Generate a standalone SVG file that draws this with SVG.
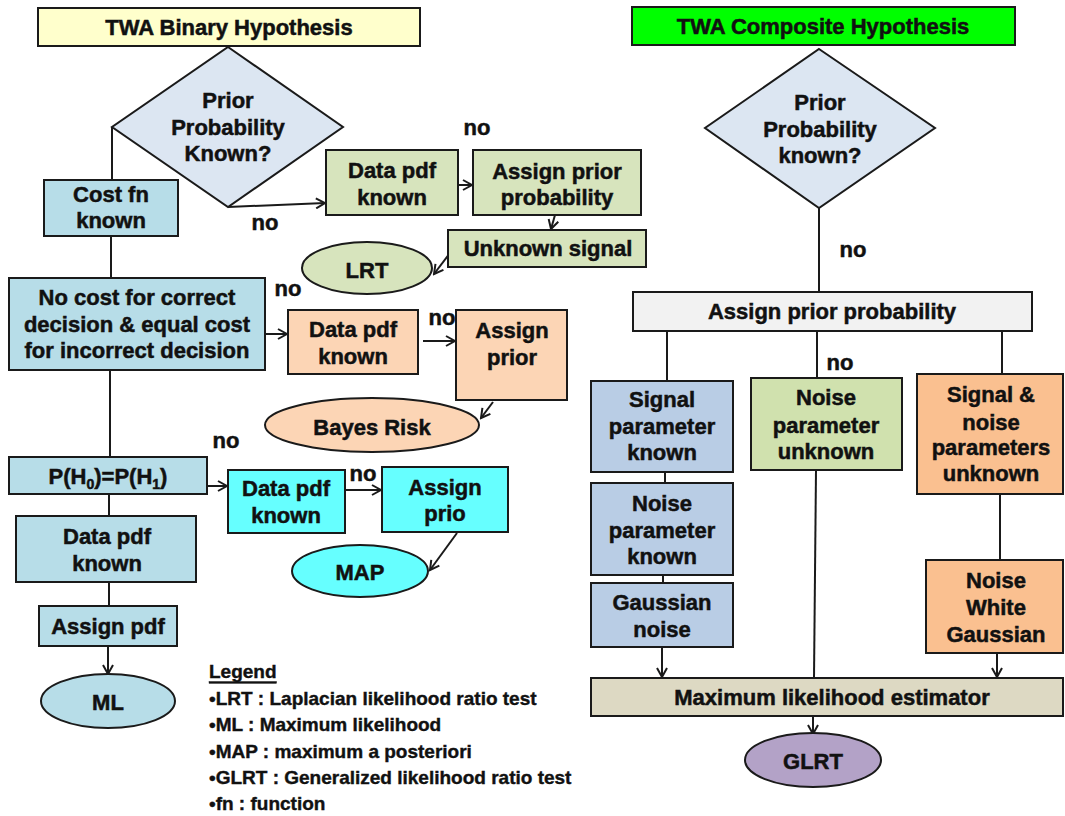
<svg xmlns="http://www.w3.org/2000/svg" width="1065" height="816" viewBox="0 0 1065 816">
<style>
.b{stroke:#1a1a1a;stroke-width:2}
.t{font-family:"Liberation Sans",Arial,sans-serif;font-weight:bold;font-size:22px;fill:#111;stroke:#111;stroke-width:0.5;text-anchor:middle;dominant-baseline:central}
.lg{font-family:"Liberation Sans",Arial,sans-serif;font-weight:bold;font-size:19px;fill:#111;stroke:#111;stroke-width:0.4;text-anchor:start;dominant-baseline:central}
.c{stroke:#1a1a1a;stroke-width:2;fill:none}
.a{marker-end:url(#ah)}
</style>
<defs>
<marker id="ah" markerWidth="12" markerHeight="12" refX="10" refY="6" orient="auto" markerUnits="userSpaceOnUse">
<path d="M1,1 L10,6 L1,11" fill="none" stroke="#1a1a1a" stroke-width="2"/>
</marker>
</defs>
<rect width="1065" height="816" fill="#fff"/>

<g id="connectors">
<line class="c" x1="112" y1="127" x2="112" y2="180"/>
<line class="c" x1="111" y1="236" x2="111" y2="278"/>
<line class="c" x1="110" y1="370" x2="110" y2="457"/>
<line class="c" x1="109" y1="494" x2="109" y2="516"/>
<line class="c" x1="109" y1="582" x2="109" y2="606"/>
<line class="c a" x1="108" y1="646" x2="108" y2="674"/>
<line class="c a" x1="228" y1="207" x2="325" y2="203"/>
<line class="c a" x1="458" y1="185" x2="472" y2="185"/>
<line class="c a" x1="555" y1="215" x2="551" y2="229"/>
<line class="c a" x1="450" y1="253" x2="434" y2="274"/>
<line class="c a" x1="265" y1="334" x2="287" y2="334"/>
<line class="c a" x1="423" y1="341" x2="455" y2="341"/>
<line class="c a" x1="493" y1="402" x2="481" y2="418"/>
<line class="c a" x1="207" y1="486" x2="227" y2="486"/>
<line class="c a" x1="345" y1="490" x2="381" y2="490"/>
<line class="c a" x1="457" y1="533" x2="430" y2="570"/>
<line class="c" x1="819" y1="208" x2="819" y2="292"/>
<line class="c" x1="667" y1="331" x2="667" y2="381"/>
<line class="c" x1="817" y1="331" x2="817" y2="378"/>
<line class="c" x1="1002" y1="331" x2="1002" y2="374"/>
<line class="c" x1="665" y1="472" x2="665" y2="483"/>
<line class="c" x1="663" y1="575" x2="663" y2="583"/>
<line class="c a" x1="662" y1="647" x2="662" y2="677"/>
<line class="c" x1="816" y1="470" x2="814" y2="678"/>
<line class="c" x1="1000" y1="494" x2="1000" y2="560"/>
<line class="c a" x1="997" y1="653" x2="997" y2="677"/>
<line class="c a" x1="813" y1="716" x2="813" y2="734"/>
</g>

<g id="title-binary">
<rect class="b" x="38" y="8" width="382" height="38" fill="#FFFFCC"/>
<text class="t" x="229" y="27">TWA Binary Hypothesis</text>
</g>
<g id="diamond-binary">
<polygon class="b" points="228,47 343,127 228,207 112,127" fill="#DCE6F2"/>
<text class="t" x="228" y="100">Prior</text>
<text class="t" x="228" y="127">Probability</text>
<text class="t" x="228" y="153">Known?</text>
</g>
<g id="cost-fn">
<rect class="b" x="44" y="180" width="134" height="56" fill="#B7DDE8"/>
<text class="t" x="111" y="194">Cost fn</text>
<text class="t" x="111" y="220">known</text>
</g>
<g id="no-cost">
<rect class="b" x="9" y="278" width="256" height="92" fill="#B7DDE8"/>
<text class="t" x="137" y="297">No cost for correct</text>
<text class="t" x="137" y="324">decision &amp; equal cost</text>
<text class="t" x="137" y="350">for incorrect decision</text>
</g>
<g id="ph">
<rect class="b" x="9" y="457" width="198" height="37" fill="#B7DDE8"/>
<text class="t" x="108" y="476">P(H<tspan font-size="14" baseline-shift="sub">0</tspan>)=P(H<tspan font-size="14" baseline-shift="sub">1</tspan>)</text>
</g>
<g id="data-pdf-left">
<rect class="b" x="16" y="516" width="180" height="66" fill="#B7DDE8"/>
<text class="t" x="107" y="536">Data pdf</text>
<text class="t" x="107" y="563">known</text>
</g>
<g id="assign-pdf">
<rect class="b" x="39" y="606" width="138" height="40" fill="#B7DDE8"/>
<text class="t" x="108" y="626">Assign pdf</text>
</g>
<g id="ml">
<ellipse class="b" cx="108" cy="701" rx="67" ry="27" fill="#B7DDE8"/>
<text class="t" x="108" y="702">ML</text>
</g>

<g id="data-pdf-green">
<rect class="b" x="326" y="150" width="132" height="65" fill="#D7E4BD"/>
<text class="t" x="392" y="170">Data pdf</text>
<text class="t" x="392" y="197">known</text>
</g>
<g id="assign-prior-prob-green">
<rect class="b" x="473" y="150" width="168" height="65" fill="#D7E4BD"/>
<text class="t" x="557" y="171">Assign prior</text>
<text class="t" x="557" y="197">probability</text>
</g>
<g id="unknown-signal">
<rect class="b" x="448" y="230" width="198" height="37" fill="#D7E4BD"/>
<text class="t" x="548" y="248">Unknown signal</text>
</g>
<g id="lrt">
<ellipse class="b" cx="367" cy="268" rx="65" ry="26" fill="#D7E4BD"/>
<text class="t" x="367" y="270">LRT</text>
</g>

<g id="data-pdf-orange">
<rect class="b" x="288" y="310" width="130" height="64" fill="#FCD5B5"/>
<text class="t" x="353" y="329">Data pdf</text>
<text class="t" x="353" y="356">known</text>
</g>
<g id="assign-prior-orange">
<rect class="b" x="456" y="310" width="111" height="90" fill="#FCD5B5"/>
<text class="t" x="512" y="330">Assign</text>
<text class="t" x="512" y="357">prior</text>
</g>
<g id="bayes-risk">
<ellipse class="b" cx="372" cy="425" rx="107" ry="27" fill="#FCD5B5"/>
<text class="t" x="372" y="427">Bayes Risk</text>
</g>

<g id="data-pdf-cyan">
<rect class="b" x="228" y="470" width="117" height="63" fill="#66FFFF"/>
<text class="t" x="286" y="488">Data pdf</text>
<text class="t" x="286" y="515">known</text>
</g>
<g id="assign-prio-cyan">
<rect class="b" x="382" y="467" width="126" height="65" fill="#66FFFF"/>
<text class="t" x="445" y="487">Assign</text>
<text class="t" x="445" y="513">prio</text>
</g>
<g id="map">
<ellipse class="b" cx="360" cy="571" rx="68" ry="26" fill="#66FFFF"/>
<text class="t" x="360" y="572">MAP</text>
</g>

<g id="no-labels">
<text class="t" x="265" y="222">no</text>
<text class="t" x="477" y="127">no</text>
<text class="t" x="288" y="288">no</text>
<text class="t" x="442" y="317">no</text>
<text class="t" x="226" y="440">no</text>
<text class="t" x="363" y="473">no</text>
<text class="t" x="853" y="249">no</text>
<text class="t" x="840" y="362">no</text>
</g>

<g id="legend">
<text class="lg" x="209" y="671" text-decoration="underline">Legend</text>
<text class="lg" x="209" y="698">•LRT : Laplacian likelihood ratio test</text>
<text class="lg" x="209" y="724">•ML : Maximum likelihood</text>
<text class="lg" x="209" y="751">•MAP : maximum a posteriori</text>
<text class="lg" x="209" y="777">•GLRT : Generalized likelihood ratio test</text>
<text class="lg" x="209" y="803">•fn : function</text>
</g>

<g id="title-composite">
<rect class="b" x="632" y="7" width="383" height="38" fill="#00FF00"/>
<text class="t" x="823" y="26">TWA Composite Hypothesis</text>
</g>
<g id="diamond-composite">
<polygon class="b" points="819,49 935,128 819,208 705,128" fill="#DCE6F2"/>
<text class="t" x="820" y="102">Prior</text>
<text class="t" x="820" y="129">Probability</text>
<text class="t" x="820" y="155">known?</text>
</g>
<g id="assign-prior-probability">
<rect class="b" x="633" y="292" width="399" height="39" fill="#F2F2F2"/>
<text class="t" x="832" y="311">Assign prior probability</text>
</g>
<g id="signal-param-known">
<rect class="b" x="591" y="381" width="142" height="91" fill="#B9CDE5"/>
<text class="t" x="662" y="399">Signal</text>
<text class="t" x="662" y="426">parameter</text>
<text class="t" x="662" y="452">known</text>
</g>
<g id="noise-param-known">
<rect class="b" x="591" y="483" width="142" height="92" fill="#B9CDE5"/>
<text class="t" x="662" y="503">Noise</text>
<text class="t" x="662" y="530">parameter</text>
<text class="t" x="662" y="556">known</text>
</g>
<g id="gaussian-noise">
<rect class="b" x="591" y="583" width="142" height="64" fill="#B9CDE5"/>
<text class="t" x="662" y="602">Gaussian</text>
<text class="t" x="662" y="629">noise</text>
</g>
<g id="noise-param-unknown">
<rect class="b" x="751" y="378" width="151" height="92" fill="#D0E1AE"/>
<text class="t" x="826" y="397">Noise</text>
<text class="t" x="826" y="425">parameter</text>
<text class="t" x="826" y="451">unknown</text>
</g>
<g id="signal-noise-unknown">
<rect class="b" x="917" y="374" width="146" height="120" fill="#FAC090"/>
<text class="t" x="991" y="394">Signal &amp;</text>
<text class="t" x="991" y="422">noise</text>
<text class="t" x="991" y="447">parameters</text>
<text class="t" x="991" y="473">unknown</text>
</g>
<g id="noise-white-gaussian">
<rect class="b" x="926" y="560" width="137" height="93" fill="#FAC090"/>
<text class="t" x="996" y="580">Noise</text>
<text class="t" x="996" y="607">White</text>
<text class="t" x="996" y="634">Gaussian</text>
</g>
<g id="mle">
<rect class="b" x="591" y="678" width="472" height="38" fill="#DDD9C3"/>
<text class="t" x="832" y="697">Maximum likelihood estimator</text>
</g>
<g id="glrt">
<ellipse class="b" cx="813" cy="760" rx="68" ry="27" fill="#B3A2C7"/>
<text class="t" x="813" y="761">GLRT</text>
</g>
</svg>
